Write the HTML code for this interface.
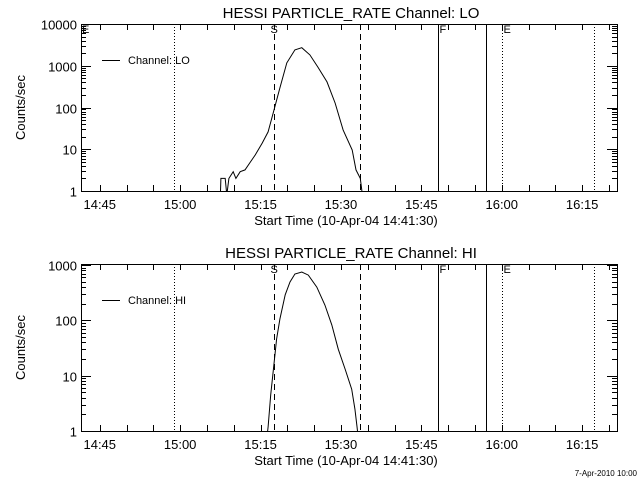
<!DOCTYPE html>
<html><head><meta charset="utf-8"><style>
html,body{margin:0;padding:0;background:#fff;}
svg{display:block;font-family:"Liberation Sans",sans-serif;}
</style></head><body>
<svg id="chart" width="640" height="480" viewBox="0 0 640 480">
<rect width="640" height="480" fill="#fff"/>
</svg>
<script>
// time in minutes after 14:41:30
const xTickLabels = ["14:45","15:00","15:15","15:30","15:45","16:00","16:15"];
const xTickMinutes = [3.5,18.5,33.5,48.5,63.5,78.5,93.5];
const loTimes = [26.0,26.1,26.9,27.2,27.6,28.4,28.9,29.7,30.6,31.5,32.5,33.8,34.9,36.0,37.1,38.4,39.9,41.2,42.7,44.2,45.9,47.4,48.9,50.6,51.3,52.1,52.4,52.6];
const loValues = [0.8,2.0,2.0,0.8,2.0,2.9,2.0,2.9,3.2,4.7,7.3,14,26,87,295,1170,2400,2700,1820,930,410,128,29,9.6,3.2,2.0,1.0,0.8];
const hiTimes = [34.7,34.9,35.4,35.9,36.5,37.1,38.1,39.0,39.9,41.2,42.4,44.0,45.5,46.8,48.0,49.3,50.5,51.1,51.5,51.7];
const hiValues = [0.8,1.18,4.5,13,46,106,290,495,690,750,660,400,190,83,30,13,5.7,2.5,1.2,0.8];
const markerTimes = [17.3,36.1,52.1,66.6,75.6,78.5,95.8];
const markerStyles = ["dot","dash","dash","solid","solid","dot","dot"];
const markerLetters = {1:"S",3:"F",5:"E"};

const svg=document.getElementById('chart');
const NS='http://www.w3.org/2000/svg';
function mk(tag,attrs,parent){const e=document.createElementNS(NS,tag);for(const k in attrs)e.setAttribute(k,attrs[k]);(parent||svg).appendChild(e);return e;}
const X0=81,X1=617,TMAX=100;
const xs=t=>X0+(X1-X0)*t/TMAX;

function panel(cfg){
  const {top,bot,yMinLog,yMaxLog,title,times,values,legend,id}=cfg;
  const ys=v=>bot-(bot-top)*(Math.log10(v)-yMinLog)/(yMaxLog-yMinLog);
  const g=mk('g',{});
  
  
  const t=mk('text',{x:351,y:top-6,'text-anchor':'middle','font-size':15},g);t.textContent=title;
  
  const cp=mk('clipPath',{id:'clip'+id},g);mk('rect',{x:X0,y:top,width:X1-X0,height:bot-top},cp);
  markerTimes.forEach((m,i)=>{
    const x=Math.round(xs(m))+0.5;
    const st=markerStyles[i];
    const l=mk('line',{x1:x,x2:x,y1:top,y2:bot,stroke:'#000','stroke-width':1,'stroke-dasharray':st==='dot'?'1,2':st==='dash'?'6,4':'none'},g);
    
    
    if(markerLetters[i]){const tx=mk('text',{x:x+(i===1?-4:1),y:top+9,'font-size':11},g);tx.textContent=markerLetters[i];}
  });
  const el=mk('text',{x:X0+1,y:top+9,'font-size':11},g);el.textContent=id==='lo'?'E':'';
  let d='';times.forEach((tt,i)=>{d+=(i?'L':'M')+xs(tt).toFixed(1)+','+ys(values[i]).toFixed(1);});
  const p=mk('path',{d:d,fill:'none',stroke:'#000','stroke-width':1,'clip-path':'url(#clip'+id+')'},g);
  
  
  const b=mk('rect',{x:X0+0.5,y:top+0.5,width:X1-X0,height:bot-top,fill:'none',stroke:'#000','stroke-width':1},g);
  
  
  for(let m=3.5;m<TMAX;m+=5){
    const x=Math.round(xs(m))+0.5;
    mk('line',{x1:x,x2:x,y1:bot,y2:bot-6,stroke:'#000'},g);
    mk('line',{x1:x,x2:x,y1:top,y2:top+6,stroke:'#000'},g);
  }
  xTickLabels.forEach((lab,i)=>{const tx=mk('text',{x:xs(xTickMinutes[i]),y:bot+18,'text-anchor':'middle','font-size':13},g);tx.textContent=lab;
    });
  const xt=mk('text',{x:346,y:bot+34,'text-anchor':'middle','font-size':13},g);xt.textContent='Start Time (10-Apr-04 14:41:30)';
  
  for(let dcd=Math.floor(yMinLog);dcd<=Math.floor(yMaxLog+1e-9);dcd++){
    for(let k=1;k<10;k++){
      const v=k*Math.pow(10,dcd);const lv=Math.log10(v);
      if(lv<yMinLog-1e-9||lv>yMaxLog+1e-9)continue;
      let y=Math.round(ys(v))+0.5;if(y<top+0.5)y=top+0.5;const len=k===1?10:5;
      mk('line',{x1:X0,x2:X0+len,y1:y,y2:y,stroke:'#000'},g);
      mk('line',{x1:X1,x2:X1-len,y1:y,y2:y,stroke:'#000'},g);
      if(k===1){const tx=mk('text',{x:X0-4,y:y+5,'text-anchor':'end','font-size':13},g);tx.textContent=String(v);
        }
    }
  }
  const yc=(top+bot)/2;
  const yt=mk('text',{x:25,y:yc,'text-anchor':'middle','font-size':13,transform:'rotate(-90 25 '+yc+')'},g);yt.textContent='Counts/sec';
  
  const ly=top+36;
  mk('line',{x1:102,x2:120,y1:ly+0.5,y2:ly+0.5,stroke:'#000'},g);
  const lt=mk('text',{x:128,y:ly+4,'font-size':11},g);lt.textContent=legend;
  
}
panel({id:'lo',top:24,bot:191,yMinLog:0,yMaxLog:4,title:'HESSI PARTICLE_RATE Channel: LO',times:loTimes,values:loValues,legend:'Channel: LO'});
panel({id:'hi',top:264,bot:431,yMinLog:0,yMaxLog:3.02,title:'HESSI PARTICLE_RATE Channel: HI',times:hiTimes,values:hiValues,legend:'Channel: HI'});
const ts=mk('text',{x:637,y:476,'text-anchor':'end','font-size':8});ts.textContent='7-Apr-2010 10:00';


</script>
</body></html>
